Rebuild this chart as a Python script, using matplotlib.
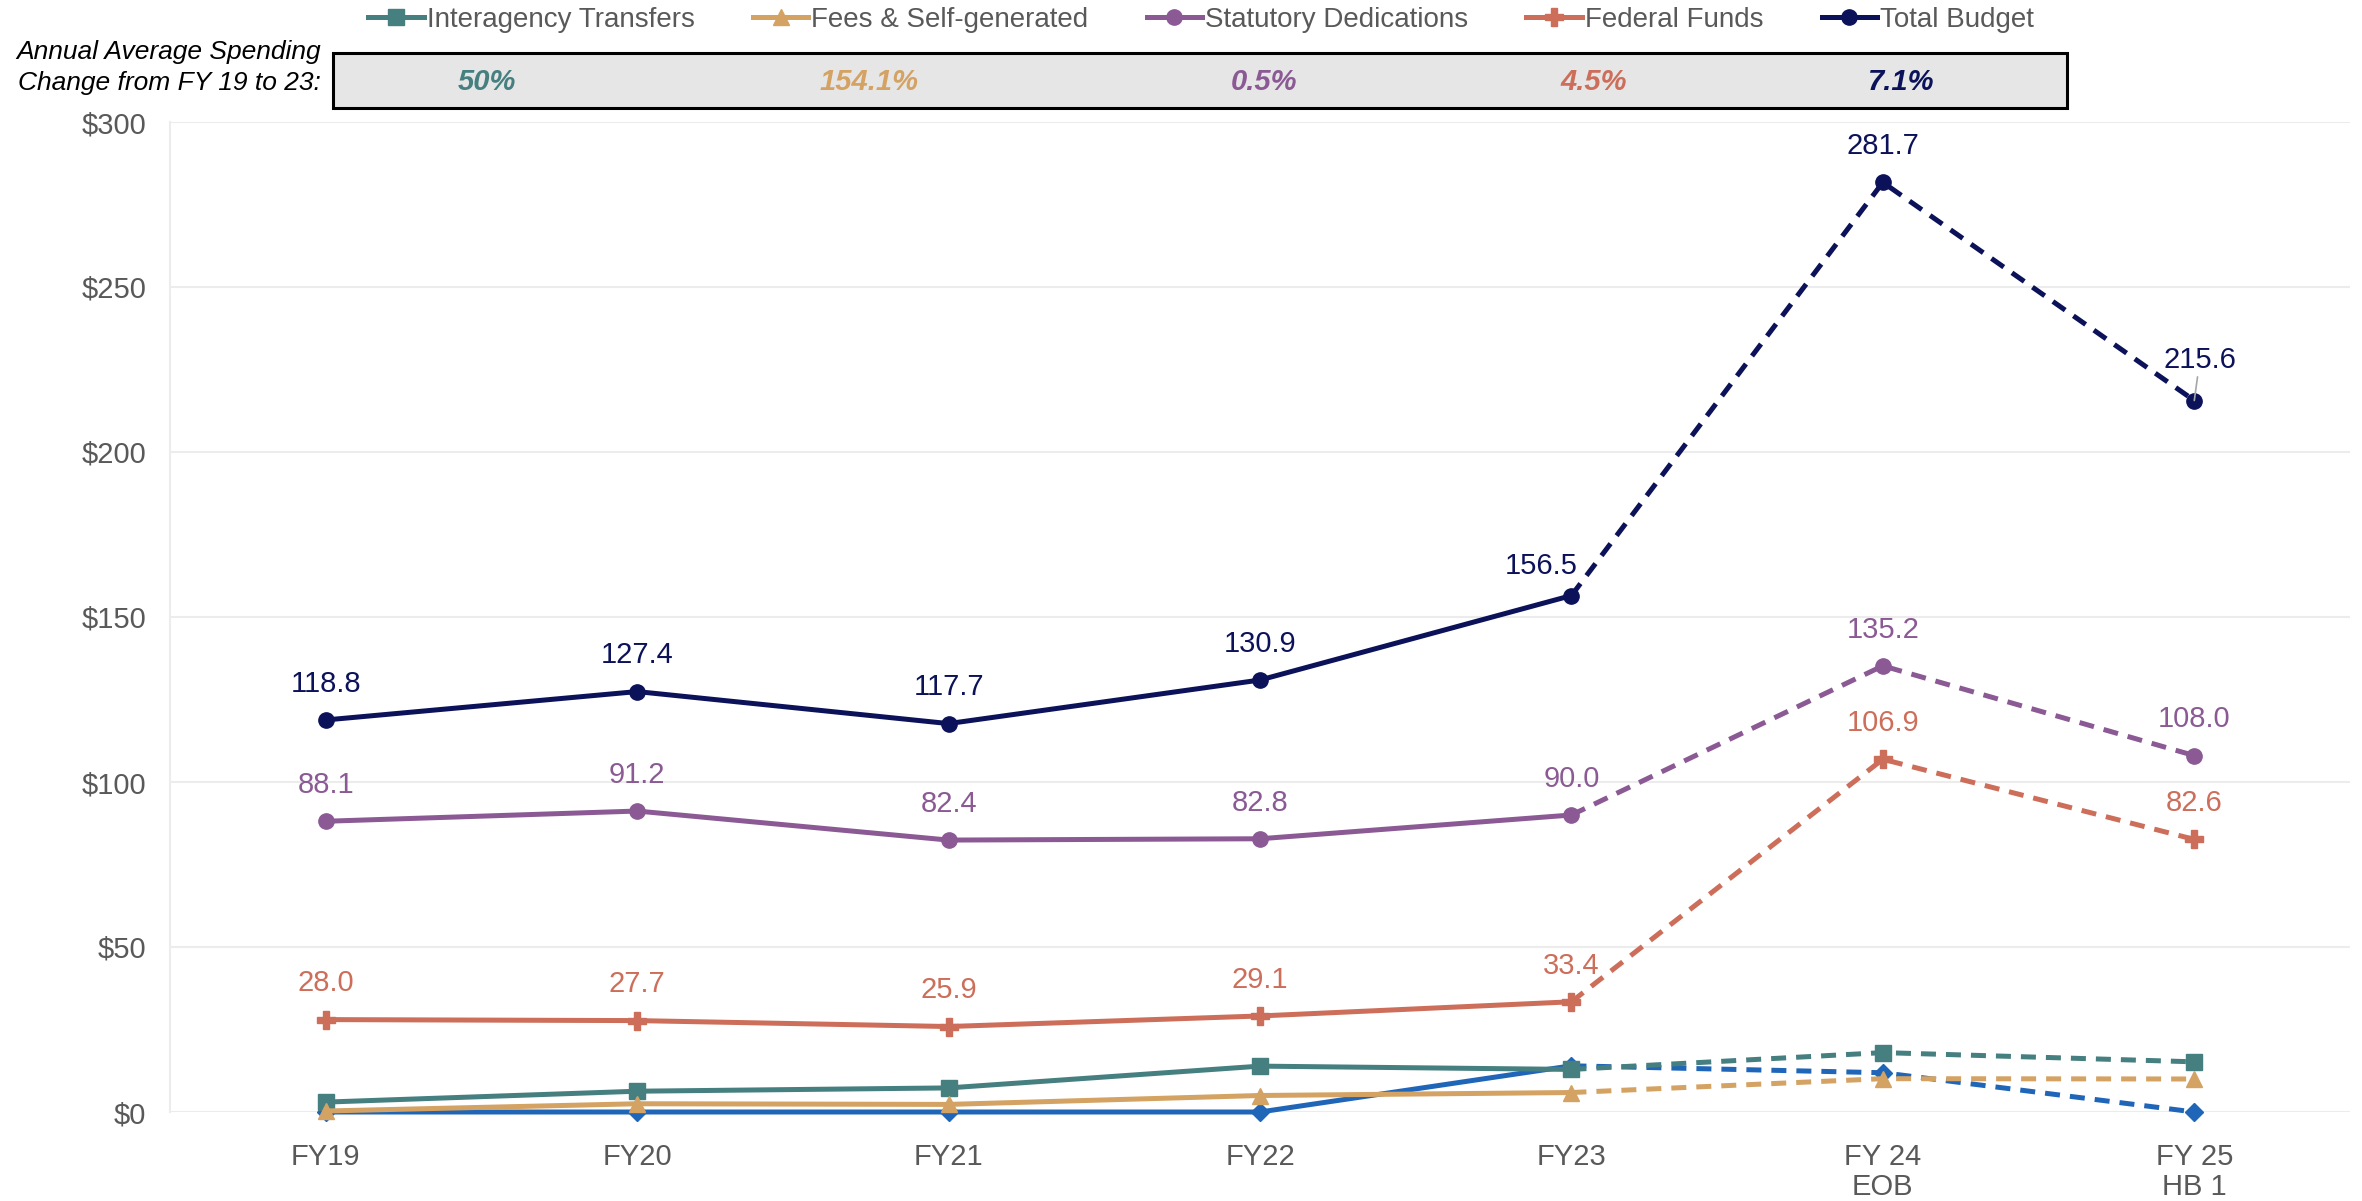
import matplotlib.pyplot as plt
from matplotlib.lines import Line2D

plt.rcParams['font.family'] = ['Liberation Sans', 'DejaVu Sans']

years = ["FY19", "FY20", "FY21", "FY22", "FY23", "FY 24\nEOB", "FY 25\nHB 1"]

interagency = [3.0, 6.3, 7.3, 13.9, 12.9, 18.0, 15.2]
fees = [0.3, 2.5, 2.3, 5.0, 5.9, 10.1, 10.0]
statutory = [88.1, 91.2, 82.4, 82.8, 90.0, 135.2, 108.0]
federal = [28.0, 27.7, 25.9, 29.1, 33.4, 106.9, 82.6]
total = [118.8, 127.4, 117.7, 130.9, 156.5, 281.7, 215.6]
general = [0.0, 0.0, 0.0, 0.0, 14.0, 11.9, 0.0]

avg_change = ["50%", "154.1%", "0.5%", "4.5%", "7.1%"]

c_ia = "#467f80"
c_fees = "#d4a262"
c_stat = "#8b5a95"
c_fed = "#cc6e5a"
c_tot = "#0c1259"
c_gen = "#1f66b8"

fig = plt.figure(figsize=(23.62, 12.01), dpi=100)
ax = fig.add_axes([170 / 2362, 1 - 1112 / 1201, (2350 - 170) / 2362, (1112 - 122) / 1201])

x = list(range(len(years)))
# actuals FY19-FY23 solid, budget years dashed
series = [
    (general, c_gen, "D", 9, 2),
    (fees, c_fees, "^", 11, 4),
    (interagency, c_ia, "s", 11, 3),
    (federal, c_fed, "P", 13, 3),
    (statutory, c_stat, "o", 11, 3),
    (total, c_tot, "o", 11, 3),
]
for vals, col, mk, ms, z in series:
    ax.plot(x[:5], vals[:5], color=col, lw=3.6, marker=mk, ms=ms, zorder=z, clip_on=False)
    ax.plot(x[4:], vals[4:], color=col, lw=3.6, ls=(0, (3, 2)), marker=mk, ms=ms,
            markevery=[1, 2], zorder=z, clip_on=False)

# data labels for the three larger series
for vals, col in [(total, c_tot), (statutory, c_stat), (federal, c_fed)]:
    for i, v in enumerate(vals):
        if vals is total and i in (4, 6):
            continue
        ax.annotate(f"{v:.1f}", (i, v), xytext=(0, 26), textcoords="offset points",
                    ha="center", va="center", fontsize=21, color=col)
ax.annotate(f"{total[4]:.1f}", (4, total[4]), xytext=(-22, 21), textcoords="offset points",
            ha="center", va="center", fontsize=21, color=c_tot)
ax.annotate(f"{total[6]:.1f}", (6, total[6]), xytext=(4, 19), textcoords="offset points",
            ha="center", va="bottom", fontsize=21, color=c_tot,
            arrowprops=dict(arrowstyle="-", color="#a6a6a6", lw=1.2, shrinkA=0, shrinkB=0))

ax.set_xlim(-0.5, 6.5)
ax.set_ylim(0, 300)
ax.set_yticks(range(0, 301, 50))
ax.set_yticklabels([f"${v}" for v in range(0, 301, 50)])
ax.set_xticks(x)
ax.set_xticklabels(years, linespacing=1.1)
ax.tick_params(axis="both", length=0, labelsize=21, labelcolor="#595959")
ax.tick_params(axis="x", pad=22)
ax.tick_params(axis="y", pad=17)
ax.grid(axis="y", color="#ececec", lw=1.5)
ax.set_axisbelow(True)
for s in ["top", "right", "bottom"]:
    ax.spines[s].set_visible(False)
ax.spines["left"].set_color("#ececec")
ax.spines["left"].set_linewidth(1.5)

handles = [
    Line2D([], [], color=c_ia, lw=3.6, marker="s", ms=11),
    Line2D([], [], color=c_fees, lw=3.6, marker="^", ms=11),
    Line2D([], [], color=c_stat, lw=3.6, marker="o", ms=11),
    Line2D([], [], color=c_fed, lw=3.6, marker="P", ms=13),
    Line2D([], [], color=c_tot, lw=3.6, marker="o", ms=11),
]
labels = ["Interagency Transfers", "Fees & Self-generated", "Statutory Dedications",
          "Federal Funds", "Total Budget"]
fig.legend(handles, labels, loc="center", bbox_to_anchor=(1201 / 2362, 1 - 20 / 1201),
           ncol=5, frameon=False, fontsize=20, handlelength=2.0, handletextpad=0.1,
           columnspacing=2.1, labelcolor="#595959")

# summary box of average annual change
box = plt.Rectangle((333 / 2362, 1 - 108 / 1201), (2067 - 333) / 2362, 55 / 1201,
                    transform=fig.transFigure, facecolor="#e6e6e6", edgecolor="black", lw=2.2)
fig.patches.append(box)
fig.text(321 / 2362, 1 - 52 / 1201, "Annual Average Spending", ha="right", va="center",
         fontsize=19, style="italic", color="black")
fig.text(321 / 2362, 1 - 83 / 1201, "Change from FY 19 to 23:", ha="right", va="center",
         fontsize=19, style="italic", color="black")
for xp, txt, col in zip([487, 869, 1264, 1594, 1901], avg_change,
                        [c_ia, c_fees, c_stat, c_fed, c_tot]):
    fig.text(xp / 2362, 1 - 82 / 1201, txt, ha="center", va="center", fontsize=21,
             style="italic", weight="bold", color=col)

fig.savefig("out.png", dpi=100)
